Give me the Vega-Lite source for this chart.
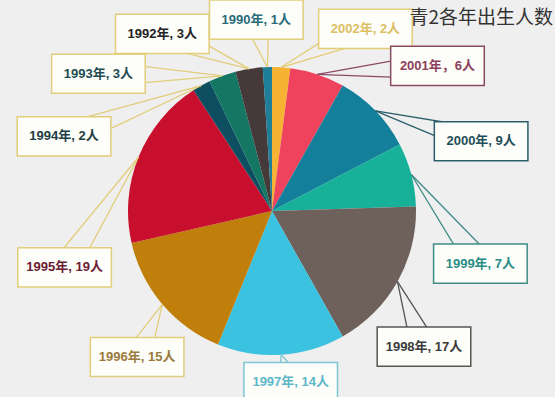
{
  "$schema": "https://vega.github.io/schema/vega-lite/v6.json",
  "width": 544,
  "height": 372,
  "autosize": {"type": "none"},
  "padding": {"left": 0, "top": 25, "right": 11, "bottom": 0},
  "background": "#efefef",
  "config": {"view": {"stroke": null}},
  "title": {"text": "青2各年出生人数", "anchor": "end", "frame": "group", "font": "Noto Sans CJK SC", "fontSize": 19, "fontWeight": "normal", "color": "#333333", "offset": 0, "dx": 9, "dy": 29},
  "data": {"values": [
    {"year": "2002", "n": 2, "label": "2002年, 2人"},
    {"year": "2001", "n": 6, "label": "2001年，6人"},
    {"year": "2000", "n": 9, "label": "2000年, 9人"},
    {"year": "1999", "n": 7, "label": "1999年, 7人"},
    {"year": "1998", "n": 17, "label": "1998年, 17人"},
    {"year": "1997", "n": 14, "label": "1997年, 14人"},
    {"year": "1996", "n": 15, "label": "1996年, 15人"},
    {"year": "1995", "n": 19, "label": "1995年, 19人"},
    {"year": "1994", "n": 2, "label": "1994年, 2人"},
    {"year": "1993", "n": 3, "label": "1993年, 3人"},
    {"year": "1992", "n": 3, "label": "1992年, 3人"},
    {"year": "1990", "n": 1, "label": "1990年, 1人"}
  ]},
  "layer": [
    {
      "mark": {"type": "arc", "outerRadius": 144},
      "encoding": {
        "theta": {"field": "n", "type": "quantitative", "stack": true},
        "order": {"field": "year", "sort": "descending"},
        "color": {"field": "year", "type": "nominal", "legend": null,
          "scale": {"domain": ["2002","2001","2000","1999","1998","1997","1996","1995","1994","1993","1992","1990"],
                    "range": ["#f6b232","#ef425c","#137f9a","#17b19a","#6e615c","#3bc2e0","#c07f0a","#c8102e","#0d4f61","#147764","#453a39","#1f7e98"]}}
      }
    },
    {
      "transform": [
        {"joinaggregate": [{"op": "sum", "field": "n", "as": "total"}, {"op": "count", "as": "cnt"}]},
        {"calculate": "datum.n + 20", "as": "w"},
        {"window": [{"op": "sum", "field": "n", "as": "cum"}, {"op": "sum", "field": "w", "as": "cumw"}], "sort": [{"field": "year", "order": "descending"}], "frame": [null, 0]},
        {"calculate": "2*PI*(datum.cum - datum.n/2)/datum.total", "as": "a"},
        {"calculate": "2*PI*(datum.cumw - datum.w/2)/(datum.total + 20*datum.cnt) + PI/20", "as": "b"},
        {"calculate": "sin(datum.a)", "as": "sx"},
        {"calculate": "cos(datum.a)", "as": "sy"},
        {"calculate": "1.49*(sin(datum.b)<0?-1:1)*pow(abs(sin(datum.b)),0.8)", "as": "lx"},
        {"calculate": "0.07+1.26*(cos(datum.b)<0?-1:1)*pow(abs(cos(datum.b)),0.8)", "as": "ly"},
        {"calculate": "sqrt(pow(datum.lx-datum.sx,2)+pow(datum.ly-datum.sy,2))", "as": "len"},
        {"calculate": "-(datum.ly-datum.sy)/datum.len*0.09", "as": "px"},
        {"calculate": "(datum.lx-datum.sx)/datum.len*0.09", "as": "py"},
        {"calculate": "datum.lx+datum.px", "as": "e1x"},
        {"calculate": "datum.ly+datum.py", "as": "e1y"},
        {"calculate": "datum.lx-datum.px", "as": "e2x"},
        {"calculate": "datum.ly-datum.py", "as": "e2y"},
        {"calculate": "datum.lx-0.325", "as": "bx1"},
        {"calculate": "datum.lx+0.325", "as": "bx2"},
        {"calculate": "datum.ly-0.136", "as": "by1"},
        {"calculate": "datum.ly+0.136", "as": "by2"}
      ],
      "layer": [
        {
          "mark": {"type": "rule", "strokeWidth": 1.3},
          "encoding": {
            "x": {"field": "sx", "type": "quantitative", "axis": null, "scale": {"domain": [-1.8889, 1.8889], "nice": false, "zero": false}},
            "y": {"field": "sy", "type": "quantitative", "axis": null, "scale": {"domain": [-1.2917, 1.2917], "nice": false, "zero": false}},
            "x2": {"field": "e1x"},
            "y2": {"field": "e1y"},
            "stroke": {"field": "year", "type": "nominal", "legend": null,
              "scale": {"domain": ["2002","2001","2000","1999","1998","1997","1996","1995","1994","1993","1992","1990"],
                        "range": ["#e5cd78","#8a4a60","#2b5e6a","#3e8c84","#555555","#7cc4d3","#e2cd7a","#e2cd7a","#e2cd7a","#e2cd7a","#e2cd7a","#e2cd7a"]}}
          }
        },
        {
          "mark": {"type": "rule", "strokeWidth": 1.3},
          "encoding": {
            "x": {"field": "sx", "type": "quantitative", "axis": null, "scale": {"domain": [-1.8889, 1.8889], "nice": false, "zero": false}},
            "y": {"field": "sy", "type": "quantitative", "axis": null, "scale": {"domain": [-1.2917, 1.2917], "nice": false, "zero": false}},
            "x2": {"field": "e2x"},
            "y2": {"field": "e2y"},
            "stroke": {"field": "year", "type": "nominal", "legend": null}
          }
        },
        {
          "mark": {"type": "rect", "fill": "#fdfdf9", "strokeWidth": 1.5},
          "encoding": {
            "x": {"field": "bx1", "type": "quantitative", "axis": null, "scale": {"domain": [-1.8889, 1.8889], "nice": false, "zero": false}},
            "x2": {"field": "bx2"},
            "y": {"field": "by1", "type": "quantitative", "axis": null, "scale": {"domain": [-1.2917, 1.2917], "nice": false, "zero": false}},
            "y2": {"field": "by2"},
            "stroke": {"field": "year", "type": "nominal", "legend": null}
          }
        },
        {
          "mark": {"type": "text", "font": "Liberation Sans, Noto Sans CJK SC", "fontSize": 13, "fontWeight": "bold", "baseline": "middle", "align": "center"},
          "encoding": {
            "x": {"field": "lx", "type": "quantitative", "axis": null, "scale": {"domain": [-1.8889, 1.8889], "nice": false, "zero": false}},
            "y": {"field": "ly", "type": "quantitative", "axis": null, "scale": {"domain": [-1.2917, 1.2917], "nice": false, "zero": false}},
            "text": {"field": "label"},
            "fill": {"field": "year", "type": "nominal", "legend": null,
              "scale": {"domain": ["2002","2001","2000","1999","1998","1997","1996","1995","1994","1993","1992","1990"],
                        "range": ["#dcbf63","#8c405c","#1f4e5a","#2a8e86","#3a3a3a","#5eb7c8","#9a7a3c","#6a1c34","#1d3d45","#1e4d52","#222222","#2a6b7a"]}}
          }
        }
      ]
    }
  ]
}
